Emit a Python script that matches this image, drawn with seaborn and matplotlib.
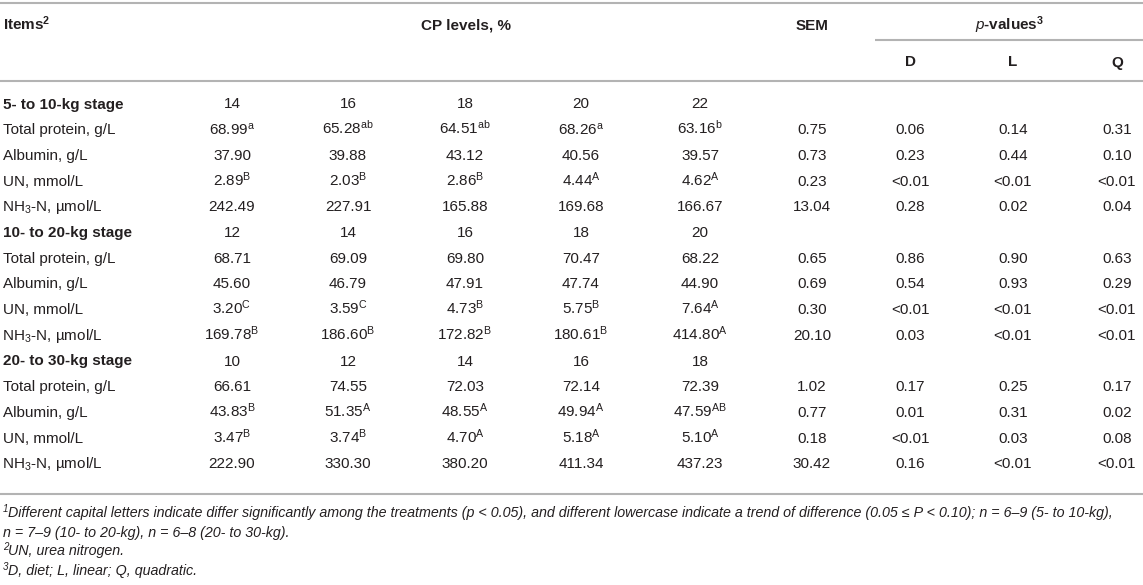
import numpy as np
import pandas as pd
import matplotlib
matplotlib.use("Agg")
import matplotlib.pyplot as plt
import seaborn as sns

sns.set_theme(style="white")
plt.rcParams["font.family"] = ["Liberation Sans", "DejaVu Sans"]
plt.rcParams["mathtext.fontset"] = "custom"
plt.rcParams["mathtext.rm"] = "Liberation Sans"
plt.rcParams["mathtext.it"] = "Liberation Sans:italic"
plt.rcParams["mathtext.bf"] = "Liberation Sans:bold"

# ── data ────────────────────────────────────────────────────
stages = ["5- to 10-kg stage", "10- to 20-kg stage", "20- to 30-kg stage"]
cp_levels = [[14, 16, 18, 20, 22], [12, 14, 16, 18, 20], [10, 12, 14, 16, 18]]
items = ["Total protein, g/L", "Albumin, g/L", "UN, mmol/L",
         r"NH$_{3}$-N, µmol/L"]

means_1 = [[68.99, 65.28, 64.51, 68.26, 63.16],
           [37.90, 39.88, 43.12, 40.56, 39.57],
           [2.89, 2.03, 2.86, 4.44, 4.62],
           [242.49, 227.91, 165.88, 169.68, 166.67]]
letters_1 = [["a", "ab", "ab", "a", "b"],
             ["", "", "", "", ""],
             ["B", "B", "B", "A", "A"],
             ["", "", "", "", ""]]
sem_1 = ["0.75", "0.73", "0.23", "13.04"]
pd_1 = ["0.06", "0.23", "<0.01", "0.28"]
pl_1 = ["0.14", "0.44", "<0.01", "0.02"]
pq_1 = ["0.31", "0.10", "<0.01", "0.04"]

means_2 = [[68.71, 69.09, 69.80, 70.47, 68.22],
           [45.60, 46.79, 47.91, 47.74, 44.90],
           [3.20, 3.59, 4.73, 5.75, 7.64],
           [169.78, 186.60, 172.82, 180.61, 414.80]]
letters_2 = [["", "", "", "", ""],
             ["", "", "", "", ""],
             ["C", "C", "B", "B", "A"],
             ["B", "B", "B", "B", "A"]]
sem_2 = ["0.65", "0.69", "0.30", "20.10"]
pd_2 = ["0.86", "0.54", "<0.01", "0.03"]
pl_2 = ["0.90", "0.93", "<0.01", "<0.01"]
pq_2 = ["0.63", "0.29", "<0.01", "<0.01"]

means_3 = [[66.61, 74.55, 72.03, 72.14, 72.39],
           [43.83, 51.35, 48.55, 49.94, 47.59],
           [3.47, 3.74, 4.70, 5.18, 5.10],
           [222.90, 330.30, 380.20, 411.34, 437.23]]
letters_3 = [["", "", "", "", ""],
             ["B", "A", "A", "A", "AB"],
             ["B", "B", "A", "A", "A"],
             ["", "", "", "", ""]]
sem_3 = ["1.02", "0.77", "0.18", "30.42"]
pd_3 = ["0.17", "0.01", "<0.01", "0.16"]
pl_3 = ["0.25", "0.31", "0.03", "<0.01"]
pq_3 = ["0.17", "0.02", "0.08", "<0.01"]

fn_marks = ["1", "", "2", "3"]
footnotes = [
    "Different capital letters indicate differ significantly among the treatments (p < 0.05), "
    "and different lowercase indicate a trend of difference (0.05 ≤ P < 0.10); n = 6–9 (5- to 10-kg),",
    "n = 7–9 (10- to 20-kg), n = 6–8 (20- to 30-kg).",
    "UN, urea nitrogen.",
    "D, diet; L, linear; Q, quadratic.",
]

# ── build long table ────────────────────────────────────────
rows = []
blocks = [(means_1, letters_1, sem_1, pd_1, pl_1, pq_1),
          (means_2, letters_2, sem_2, pd_2, pl_2, pq_2),
          (means_3, letters_3, sem_3, pd_3, pl_3, pq_3)]
for s, (m, l, se, pdv, plv, pqv) in enumerate(blocks):
    rows.append({"label": stages[s], "bold": True,
                 "cells": [str(v) for v in cp_levels[s]] + ["", "", "", ""]})
    for i, item in enumerate(items):
        cells = []
        for v, let in zip(m[i], l[i]):
            txt = f"{v:.2f}"
            if let:
                txt += r"$^{\mathrm{" + let + "}}$"
            cells.append(txt)
        cells += [se[i], pdv[i], plv[i], pqv[i]]
        rows.append({"label": item, "bold": False, "cells": cells})
table = pd.DataFrame(rows)

# ── layout (pixels) ─────────────────────────────────────────
W, H = 1143, 585
col_x = [232, 348, 465, 581, 700, 812, 910, 1013, 1117]
row0, row_step = 103, 25.7
text_c = "#231f20"
line_c = "#b3b3b3"
fs = 11

fig = plt.figure(figsize=(W / 100, H / 100), dpi=100)
ax = fig.add_axes([0, 0, 1, 1])
ax.set_xlim(0, W)
ax.set_ylim(H, 0)
ax.axis("off")

# rules
for y in [3, 81, 494]:
    ax.plot([0, W], [y, y], color=line_c, lw=1.5, solid_capstyle="butt")
ax.plot([875, W], [40, 40], color=line_c, lw=1.5, solid_capstyle="butt")

# header
hb = 30
ax.text(3, hb, r"Items$^{\mathbf{2}}$", fontsize=fs, fontweight="bold",
        color=text_c, va="baseline", ha="left")
ax.text((col_x[0] + col_x[4]) / 2, hb, "CP levels, %", fontsize=fs,
        fontweight="bold", color=text_c, va="baseline", ha="center")
ax.text(col_x[5], hb, "SEM", fontsize=fs, fontweight="bold",
        color=text_c, va="baseline", ha="center")
ax.text(1010, hb, r"$\mathit{p}$-values$^{\mathbf{3}}$", fontsize=fs,
        fontweight="bold", color=text_c, va="baseline", ha="center")
for x, lab in zip(col_x[6:], ["D", "L", "Q"]):
    ax.text(x, 66.5, lab, fontsize=fs, fontweight="bold", color=text_c,
            va="baseline", ha="center")

# body
for r, row in table.iterrows():
    yb = row0 + r * row_step + 5.5
    lx = 1.5 if row["label"].startswith("NH") else 3
    ax.text(lx, yb, row["label"], fontsize=fs,
            fontweight="bold" if row["bold"] else "normal",
            color=text_c, va="baseline", ha="left")
    for x, cell in zip(col_x, row["cells"]):
        if cell:
            ax.text(x, yb, cell, fontsize=fs, color=text_c,
                    va="baseline", ha="center")

# footnotes (superscript marks drawn as separate small texts)
for mark, fn, yc in zip(fn_marks, footnotes, [513, 532, 551, 570]):
    yb = yc + 4.5
    tx = 3
    if mark:
        ax.text(3, yb - 5, mark, fontsize=7, fontstyle="italic",
                color=text_c, va="baseline", ha="left")
        tx = 8.5
    ax.text(tx, yb, fn, fontsize=10.3, fontstyle="italic",
            color=text_c, va="baseline", ha="left")

fig.savefig("out.png", dpi=100)
